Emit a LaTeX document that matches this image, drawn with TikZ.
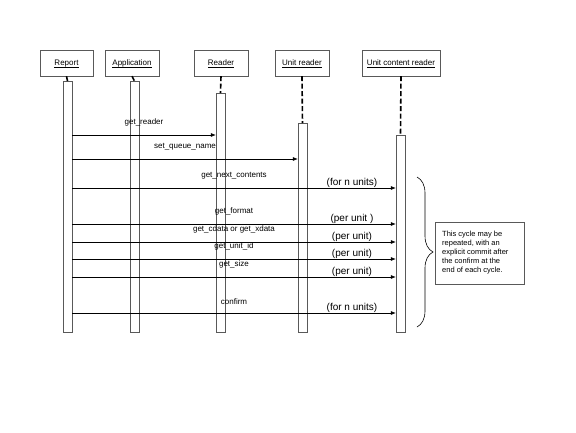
\documentclass[tikz,border=0pt]{standalone}
\usepackage{fontspec}
\setmainfont{Liberation Sans}
\usetikzlibrary{arrows.meta,decorations.pathreplacing}
\begin{document}
\begin{tikzpicture}[x=1pt,y=-1pt,
    head/.style={draw=black!65,minimum height=26pt,inner sep=0pt,text height=5.5pt,text depth=0.5pt,font=\fontsize{8}{9}\selectfont},
    bar/.style={draw=black!65,fill=white,minimum width=9pt,inner sep=0pt,anchor=north},
    life/.style={line width=1.6pt,dash pattern=on 5pt off 2.5pt},
    msg/.style={-{Latex[length=5pt,width=4pt]},line width=0.6pt},
    lbl/.style={font=\fontsize{8}{9}\selectfont},
    note/.style={font=\fontsize{10}{12}\selectfont,inner sep=0pt,anchor=base}]
    \useasboundingbox (0,0) rectangle (576,432);
    % heads: name/x/width/text
    \foreach \n/\x/\w/\t in {Rep/66.5/53/Report, App/132/54/Application, Rdr/221/54/Reader,
                              Unt/302/54/Unit reader, Cnt/401/78/Unit content reader}
        \node[head,minimum width=\w pt] (h\n) at (\x,63) {\underline{\smash{\t}}};
    % activation bars: name/x/top
    \foreach \n/\x/\top in {Rep/67.5/81, App/134.5/81, Rdr/220.5/93, Unt/302.5/123, Cnt/400.5/135} {
        \node[bar,minimum height=332pt-\top pt] (b\n) at (\x,\top) {};
        \draw[life] (h\n.south) -- (b\n.north);
    }
    
    % calls from Report
    \foreach \y/\t/\lab in {135/Rdr/get\_reader, 159/Unt/set\_queue\_name,
                            188/Cnt/get\_next\_contents, 224/Cnt/get\_format,
                            242/Cnt/get\_cdata or get\_xdata, 259/Cnt/get\_unit\_id,
                            277/Cnt/get\_size, 313/Cnt/confirm}
        \draw[msg] (bRep.east |- 0,\y) -- (b\t.west |- 0,\y) node[lbl,midway,above=5pt] (l\y) {\lab};
    \foreach \y/\txt in {188/(for n units), 224/(per unit ), 242/(per unit), 259/(per unit),
                         277/(per unit), 313/(for n units)}
        \node[note] (n\y) at (352,\y-2.5) {\txt};
    
    % cycle brace and remark
    \coordinate (top) at (417,177);
    \coordinate (bot) at (417,327);
    \draw[decorate,decoration={brace,amplitude=16pt},line width=0.6pt] (top) -- (bot);
    \node[draw=black!65,minimum width=89pt,minimum height=62pt,inner sep=0pt] (rem) at (479.5,253) {};
    \node[anchor=west,align=left,inner sep=0pt,font=\fontsize{7.5}{9}\selectfont] (remtxt) at (442,253)
        {This cycle may be\\repeated, with an\\explicit commit after\\the confirm at the\\end of each cycle.};
\end{tikzpicture}
\end{document}
